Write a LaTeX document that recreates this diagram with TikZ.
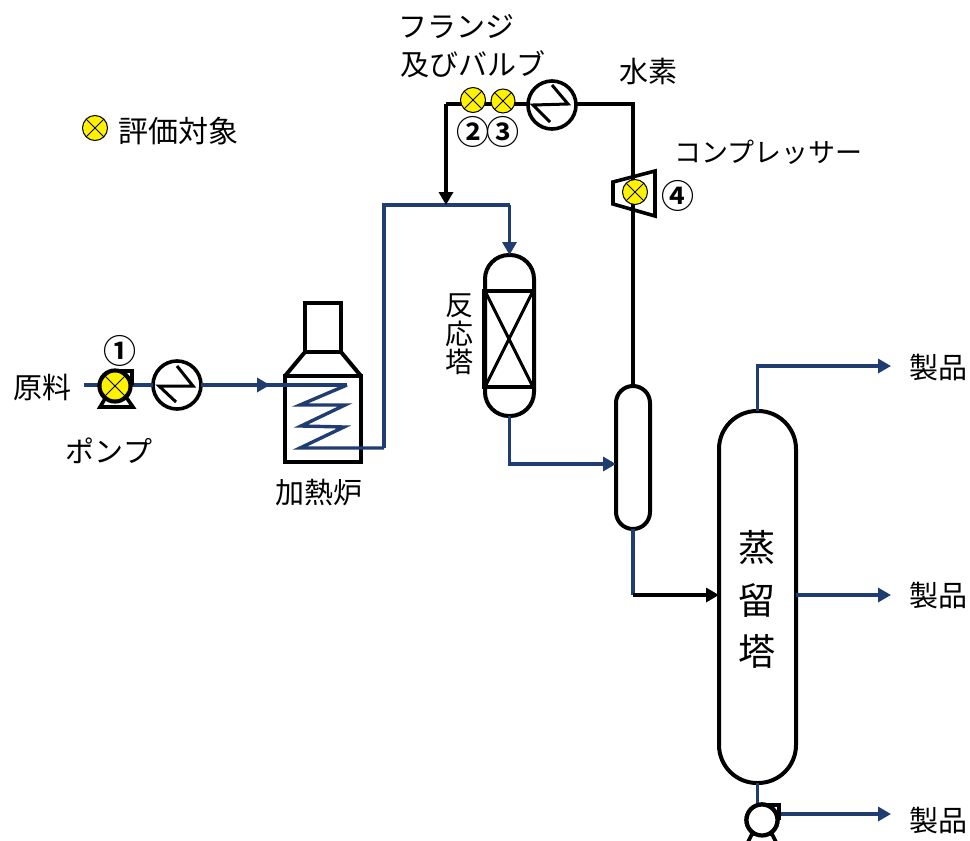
\documentclass[tikz,border=0pt]{standalone}
\usepackage{fontspec}
\setmainfont{Noto Sans CJK JP}
\newfontfamily\numfont{Noto Sans CJK JP Bold}
\usetikzlibrary{arrows.meta,calc}
\definecolor{flowblue}{HTML}{1F3D70}
\newcommand{\lbl}[1]{\fontsize{#1}{#1}\selectfont}
\tikzset{
  flow/.style={draw=flowblue,line width=3.8pt,line join=miter},
  blk/.style={draw=black,line width=4pt,line join=miter},
  bluetip/.style={-{Triangle[length=13pt,width=14pt,fill=flowblue,color=flowblue]}},
  blacktip/.style={-{Triangle[length=13pt,width=14pt]}},
  vessel/.style={draw=black,line width=4pt,fill=white,inner sep=0pt,outer sep=0pt},
  hxc/.style={circle,draw=black,line width=3.6pt,fill=white,minimum size=48pt,inner sep=0pt,outer sep=0pt},
  pumpc/.style={circle,draw=black,line width=4.2pt,fill=white,minimum size=31pt,inner sep=0pt,outer sep=0pt},
  point/.style={circle,draw=black,line width=1pt,fill=yellow,minimum size=25pt,inner sep=0pt,outer sep=0pt,
    path picture={\draw[black,line width=1pt] (path picture bounding box.north west)--(path picture bounding box.south east)
      (path picture bounding box.north east)--(path picture bounding box.south west);}},
  txt/.style={inner sep=0pt,outer sep=0pt,text=black,font=\lbl{29}},
  num/.style={inner sep=0pt,outer sep=0pt,text=black,font=\numfont\lbl{33}}
}
\begin{document}
\begin{tikzpicture}[x=1pt,y=-1pt]
\clip (0,0) rectangle (970,841);
\fill[white] (0,0) rectangle (970,841);
% coordinates
\coordinate (feed) at (84,385);
\coordinate (tipF) at (270,385);
\coordinate (coil0) at (347,385);
\coordinate (coilEnd) at (300,448);
\coordinate (riseB) at (384,448);
\coordinate (riseT) at (384,205);
\coordinate (topR) at (509.5,205);
\coordinate (hTee) at (446,205);
\coordinate (hBend) at (446,104);
\coordinate (hCorner) at (633,104);
\coordinate (rBend) at (509.5,464);
\coordinate (dBend) at (633,595);
\coordinate (tBend) at (757.5,366);
\coordinate (p1) at (891,366);
\coordinate (p2) at (891,595);
\coordinate (p3) at (891,814);
% equipment
\node[vessel,minimum width=76pt,minimum height=86pt] (furn) at (323,419) {};
\node[vessel,minimum width=36pt,minimum height=49pt] (stack) at (323,327.5) {};
\node[vessel,rounded corners=24pt,minimum width=49pt,minimum height=161pt] (react) at (509.5,335.5) {};
\node[vessel,rounded corners=17pt,minimum width=34pt,minimum height=143pt] (drum) at (633,457.5) {};
\node[vessel,rounded corners=38pt,minimum width=77pt,minimum height=372pt] (dist) at (757.5,597) {};
\node[hxc] (hxA) at (177,385) {};
\node[hxc] (hxB) at (552,105) {};
\node[pumpc] (pumpB) at (762,820) {};
% lines (behind the marker circles)
\draw[flow] (feed) -- (hxA.west);
\draw[flow] (hxA.east) -- (coil0);
\draw[flow,bluetip] (hxA.east) -- (tipF);
\draw[flow,line width=3.4pt] (coil0) -- (300,405) -- (345,405) -- (301,426) -- (344,427) -- (coilEnd) -- (riseB);
\draw[flow] (riseB) -- (riseT) -- (topR);
\draw[flow,bluetip] (topR) -- (react.north -| topR);
\draw[blk] (hxB.west |- hBend) -- (hBend);
\draw[blk,blacktip] (hBend) -- (hTee);
\draw[blk] (hxB.east |- hCorner) -- (hCorner) -- (drum.north -| hCorner);
\draw[flow,bluetip] (react.south) -- (rBend) -- (drum.west |- rBend);
\draw[flow] (drum.south) -- (dBend);
\draw[blk,blacktip] (dBend) -- (dist.west |- dBend);
\draw[flow,bluetip] (dist.north) -- (tBend) -- (p1);
\draw[flow,bluetip] (dist.east |- p2) -- (p2);
\draw[flow] (dist.south) -- (pumpB.north -| dist.south);
\draw[flow,bluetip] (pumpB.east |- p3) -- (p3);
% furnace details
\draw[blk,line width=4pt] (stack.south west) -- (furn.north west);
\draw[blk,line width=4pt] (stack.south east) -- (furn.north east);
% exchanger zigzags
\draw[black,line width=3pt,line join=miter,shift={(hxA.center)}] (-1,17) -- (-18,1) -- (16,1) -- (0,-19);
\draw[black,line width=3pt,line join=miter,shift={(hxB.center)}] (-2,17) -- (-19,0) -- (16,-1) -- (0,-20);
% reactor packing
\draw[black,line width=3.6pt] (484,291) rectangle (534,387);
\draw[black,line width=5pt] (484,291) -- (484,387);
\draw[black,line width=3pt] (485,291) -- (533,387) (533,291) -- (485,387);
% compressor
\draw[black,line width=3.6pt,line join=miter,fill=white] (613,182) -- (655,171) -- (655,216) -- (613,204) -- cycle;
\draw[blk] (633,150) -- (633,180) (633,204) -- (633,240);
% pump A
\draw[black,line width=3.6pt,fill=white,line join=miter] (100,407) -- (133,407) -- (126,397) -- (106,397) -- cycle;
\draw[black,line width=3.6pt,line join=miter] (115,371) -- (132,371) -- (132,385);
\node[pumpc,minimum size=31pt] (pumpA) at (115,386) {};
\node[point,minimum size=28pt] (m1) at (115,386) {};
% pump B
\draw[black,line width=3.6pt,line join=miter] (762,805) -- (779,805) -- (779,820);
\draw[black,line width=3.6pt,fill=white] (748,842) -- (752,834) -- (772,834) -- (776,842);
\node[pumpc] (pumpB2) at (762,820) {};
% markers
\node[point] (leg) at (95,128) {};
\node[point] (m2) at (473,100) {};
\node[point,minimum size=24pt] (m3) at (503,101) {};
\node[point] (m4) at (635,192) {};
% labels
\node[txt,anchor=west] at (13,387) {原料};
\node[num] at (120,351) {①};
\node[txt] at (109,451) {ポンプ};
\node[txt] at (319,493) {加熱炉};
\node[txt,font=\lbl{30},anchor=west] at (118,131) {評価対象};
\node[txt,anchor=west] at (398,27) {フランジ};
\node[txt,anchor=west] at (400,64) {及びバルブ};
\node[txt] at (648,71) {水素};
\node[txt,font=\lbl{27},anchor=west] at (674,152) {コンプレッサー};
\node[num] at (473,132) {②};
\node[num] at (503,132) {③};
\node[num] at (678,196) {④};
\node[txt,font=\lbl{28}] at (459,306) {反};
\node[txt,font=\lbl{28}] at (459,334) {応};
\node[txt,font=\lbl{28}] at (459,362) {塔};
\node[txt,font=\lbl{37}] at (757,547) {蒸};
\node[txt,font=\lbl{37}] at (757,600) {留};
\node[txt,font=\lbl{37}] at (757,651) {塔};
\node[txt] at (938,368) {製品};
\node[txt] at (938,596) {製品};
\node[txt] at (938,820) {製品};
\end{tikzpicture}
\end{document}
